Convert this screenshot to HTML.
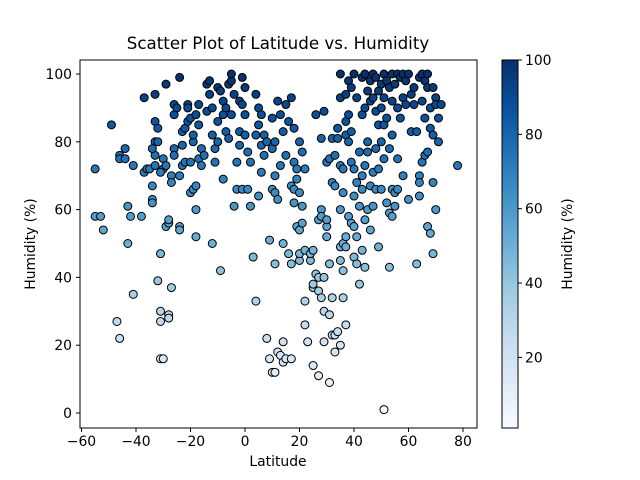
<!DOCTYPE html>
<html><head><meta charset="utf-8">
<style>
body{margin:0;background:#fff;}
svg{display:block;font-family:"DejaVu Sans","Liberation Sans",sans-serif;}
</style></head>
<body>
<svg id="chart" width="640" height="480" viewBox="0 0 640 480">
<defs>
<linearGradient id="blues" x1="0" y1="1" x2="0" y2="0">
<stop offset="0" stop-color="#f7fbff"/><stop offset="0.125" stop-color="#deebf7"/>
<stop offset="0.25" stop-color="#c6dbef"/><stop offset="0.375" stop-color="#9ecae1"/>
<stop offset="0.5" stop-color="#6baed6"/><stop offset="0.625" stop-color="#4292c6"/>
<stop offset="0.75" stop-color="#2171b5"/><stop offset="0.875" stop-color="#08519c"/>
<stop offset="1" stop-color="#08306b"/>
</linearGradient>
</defs>
<text x="278" y="49" text-anchor="middle" font-size="16.7">Scatter Plot of Latitude vs. Humidity</text>
<g id="points"></g>
<rect x="80" y="60" width="397" height="368" fill="none" stroke="#000" stroke-width="1"/>
<g id="xticks"></g>
<g id="yticks"></g>
<text x="278" y="466" text-anchor="middle" font-size="13.9">Latitude</text>
<text transform="translate(35,244) rotate(-90)" text-anchor="middle" font-size="13.9">Humidity (%)</text>
<rect x="502" y="60" width="16" height="368" fill="url(#blues)" stroke="#000" stroke-width="1"/>
<g id="cticks"></g>
<text transform="translate(572,244) rotate(-90)" text-anchor="middle" font-size="13.9">Humidity (%)</text>
</svg>
<script>
const lats = [-55,-55,-53,-52,-49,-47,-46,-46,-46,-44,-44,-43,-43,-42,-41,-41,-38,-37,-37,-36,-35,
-34,-34,-34,-33,-33,-33,-33,-32,-32,-31,-31,-31,-31,-30,-30,-30,-29,-29,-28,-28,-28,-28,-27,-27,-26,-26,-26,-26,-25,-33,-34,-32,-31,-29,-27,
-24,-24,-24,-24,-23,-23,-23,-22,-22,-21,-21,-21,-20,-20,-20,-19,-19,-19,-18,-18,-18,-18,-17,-17,-17,-16,-16,-15,-14,-14,-13,-13,-12,-12,-12,-11,-11,-10,-10,-10,
-9,-9,-8,-8,-8,-7,-7,-6,-6,-5,-5,-5,-4,-4,-3,-3,-2,-2,-2,-1,-1,-1,0,0,0,1,1,2,2,
3,4,4,4,5,5,5,6,6,6,7,7,8,8,9,9,10,10,10,10,11,11,11,11,11,12,12,12,13,13,13,
14,14,14,14,15,15,15,16,16,17,17,17,17,18,18,18,18,19,19,19,20,20,20,20,20,21,21,21,22,22,22,22,
23,24,24,25,25,25,25,26,26,27,27,27,27,28,28,28,28,29,29,29,29,30,30,30,30,31,31,31,31,32,32,32,32,33,33,33,33,34,34,34,
35,35,35,35,35,35,35,36,36,36,36,36,37,37,37,37,37,37,38,38,38,38,39,39,39,39,40,40,40,40,40,41,41,41,41,42,42,42,
43,43,43,43,43,44,44,44,44,44,45,45,45,45,46,46,46,46,47,47,47,47,48,48,48,48,49,49,49,49,50,50,50,50,
51,51,51,51,51,52,52,52,53,53,53,53,54,54,54,54,54,55,55,55,56,56,56,56,57,57,58,58,58,59,59,60,60,61,61,62,62,
63,63,64,64,64,64,65,65,65,66,66,66,67,67,67,67,68,68,68,69,69,69,69,70,70,70,71,71,72,78];
const humidity = [72,58,58,54,85,27,22,76,75,78,75,61,50,58,35,73,58,93,71,72,72,
63,67,62,94,80,86,76,84,39,27,30,47,16,16,72,75,55,97,56,57,29,28,70,37,78,76,88,91,90,73,78,80,71,73,68,
99,70,55,54,73,79,83,84,74,91,86,90,87,65,74,80,82,66,67,60,52,88,85,91,75,78,73,76,89,97,98,94,50,82,90,78,74,86,96,80,
42,95,92,69,88,90,83,81,97,98,100,88,94,61,66,74,79,83,92,91,66,99,96,88,82,77,66,61,74,
46,33,82,94,85,90,64,88,79,71,76,82,22,80,51,16,12,66,78,87,12,44,65,80,70,18,63,92,17,73,88,
15,21,50,83,16,76,91,86,47,44,16,93,67,84,62,66,74,55,69,72,54,45,47,80,65,61,77,56,33,26,48,72,
21,45,47,14,48,37,38,88,41,11,57,36,40,34,60,58,81,21,89,30,40,55,52,57,74,9,29,75,44,23,34,68,81,18,23,76,67,24,81,84,
100,93,60,73,49,45,20,34,42,50,65,72,86,82,94,49,26,52,88,80,58,98,83,96,74,56,100,72,55,64,46,52,68,93,44,61,38,77,
99,88,70,48,66,100,43,90,73,57,95,80,60,77,98,92,67,54,100,93,71,61,99,78,89,66,49,95,85,72,97,80,66,90,
1,100,93,85,75,98,87,62,43,59,78,96,100,92,66,58,82,61,97,65,100,75,90,66,99,87,100,93,70,98,91,63,100,94,83,96,91,
44,83,99,70,68,64,92,100,74,87,76,98,100,96,77,55,90,84,53,47,68,82,96,93,91,60,87,80,91,73];
const xTicks = [-60,-40,-20,0,20,40,60,80];
const yTicks = [0,20,40,60,80,100];
const cTicks = [20,40,60,80,100];
const cMin = 1, cMax = 100;

const NS="http://www.w3.org/2000/svg";
const xs = v => 245 + v*2.725;
const ys = v => 413 - v*3.39;
const cs = v => 428 - (v-cMin)/(cMax-cMin)*368;
const stops=["#f7fbff","#deebf7","#c6dbef","#9ecae1","#6baed6","#4292c6","#2171b5","#08519c","#08306b"];
function hex(h){return [1,3,5].map(i=>parseInt(h.substr(i,2),16));}
function color(v){
  let t=Math.max(0,Math.min(1,(v-cMin)/(cMax-cMin)))*8;
  let i=Math.min(7,Math.floor(t)),f=t-i;
  let a=hex(stops[i]),b=hex(stops[i+1]);
  return "rgb("+a.map((c,k)=>Math.round(c+(b[k]-c)*f)).join(",")+")";
}
const pg=document.getElementById("points");
for(let i=0;i<lats.length;i++){
  const c=document.createElementNS(NS,"circle");
  c.setAttribute("cx",xs(lats[i]));c.setAttribute("cy",ys(humidity[i]));
  c.setAttribute("r",4);c.setAttribute("fill",color(humidity[i]));
  c.setAttribute("stroke","#000");c.setAttribute("stroke-width","1");
  
  
  pg.appendChild(c);
}
function tick(g,x1,y1,x2,y2,tx,ty,label,anchor){
  const l=document.createElementNS(NS,"line");
  l.setAttribute("x1",x1);l.setAttribute("y1",y1);l.setAttribute("x2",x2);l.setAttribute("y2",y2);
  l.setAttribute("stroke","#000");
  
  
  g.appendChild(l);
  const t=document.createElementNS(NS,"text");
  t.setAttribute("x",tx);t.setAttribute("y",ty);t.setAttribute("font-size","13.9");
  t.setAttribute("text-anchor",anchor);t.textContent=label;
  
  
  g.appendChild(t);
}
const fmt=v=>v<0?"\u2212"+(-v):String(v);
const xg=document.getElementById("xticks");
xTicks.forEach(v=>tick(xg,xs(v),428,xs(v),432,xs(v),446,fmt(v),"middle"));
const yg=document.getElementById("yticks");
yTicks.forEach(v=>tick(yg,80,ys(v),76,ys(v),72,ys(v)+5,fmt(v),"end"));
const cg=document.getElementById("cticks");
cTicks.forEach(v=>tick(cg,518,cs(v),522,cs(v),525,cs(v)+5,fmt(v),"start"));
</script>
</body></html>
